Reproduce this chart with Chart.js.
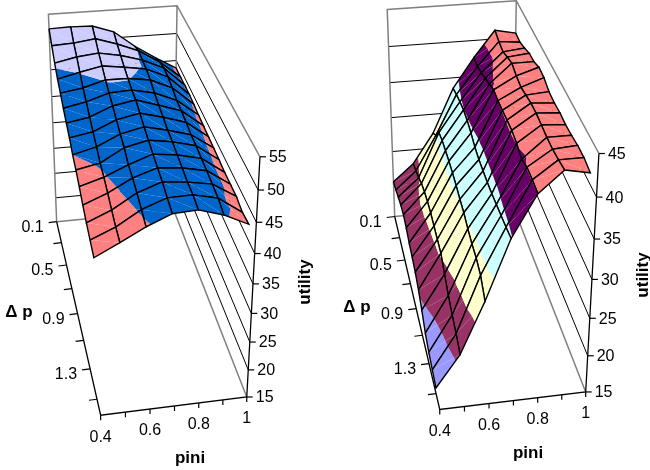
<!DOCTYPE html>
<html>
<head>
<meta charset="utf-8">
<script src="https://cdn.jsdelivr.net/npm/chart.js@4"></script>
<style>body{margin:0;background:#fff}canvas{display:block}</style>
</head>
<body>
<canvas id="surfaces" width="650" height="470"></canvas>
<script>
// axis values
const piniValues = [0.4, 0.5, 0.6, 0.7, 0.8, 0.9, 1];
const deltaPValues = [0.1, 0.2, 0.3, 0.4, 0.5, 0.6, 0.7, 0.8, 0.9, 1.0, 1.1, 1.2, 1.3, 1.4, 1.5];
const deltaPTicks = [0.1, 0.3, 0.5, 0.7, 0.9, 1.1, 1.3, 1.5];
const deltaPLabels = ['0.1', '', '0.5', '', '0.9', '', '1.3', ''];
const piniLabels = ['0.4', '', '0.6', '', '0.8', '', '1'];
const leftUtilityTicks = [15, 20, 25, 30, 35, 40, 45, 50, 55];
const rightUtilityTicks = [15, 20, 25, 30, 35, 40, 45];

// utility over delta p, one list per pini value (left surface)
const leftPini04 = [52.4, 50.9, 49.4, 48.2, 47.4, 46.5, 45.7, 45.0, 44.0, 43.4, 42.6, 41.6, 40.8, 40.2, 39.6];
const leftPini05 = [52.5, 51.1, 50.2, 49.1, 48.0, 47.3, 46.4, 45.7, 45.0, 44.2, 43.8, 43.2, 42.5, 41.9, 41.6];
const leftPini06 = [52.4, 51.6, 50.6, 49.9, 49.1, 48.5, 48.0, 47.4, 46.8, 46.4, 45.5, 45.3, 44.9, 44.3, 43.7];
const leftPini07 = [51.1, 50.4, 49.9, 49.4, 49.05, 48.7, 48.7, 48.2, 47.7, 47.3, 46.9, 46.6, 46.3, 45.8, 45.4];
const leftPini08 = [48.2, 48.9, 48.8, 48.8, 48.5, 47.9, 47.5, 47.2, 46.8, 46.7, 46.4, 46.2, 45.9, 45.9, 45.6];
const leftPini09 = [45.8, 46.6, 47.1, 47.1, 46.8, 46.3, 46.2, 46.0, 45.7, 45.7, 45.5, 45.4, 45.2, 45.0, 44.4];
const leftPini10 = [43.6, 43.6, 43.7, 43.7, 43.6, 43.4, 43.3, 43.2, 43.1, 43.0, 42.8, 42.8, 42.8, 42.3, 42.5];

// same for the right surface
const rightPini04 = [20.4, 20.7, 21.2, 21.6, 21.8, 21.5, 21.0, 20.7, 20.3, 19.6, 18.6, 17.3, 16.6, 16.2, 15.8];
const rightPini05 = [22.9, 23.3, 23.8, 24.5, 24.8, 25.0, 25.0, 24.8, 24.6, 24.4, 23.3, 22.2, 21.4, 20.8, 20.0];
const rightPini06 = [27.2, 28.3, 30.1, 30.4, 30.4, 30.4, 30.3, 30.1, 29.8, 29.6, 29.1, 28.8, 28.7, 28.2, 26.7];
const rightPini07 = [33.5, 33.9, 34.2, 34.4, 34.3, 34.0, 33.5, 33.3, 33.3, 33.3, 33.4, 33.6, 33.8, 34.0, 34.3];
const rightPini08 = [37.6, 37.6, 38.0, 38.5, 39.0, 39.5, 39.4, 39.5, 39.6, 39.7, 39.5, 39.0, 39.5, 39.5, 39.4];
const rightPini09 = [41.2, 40.8, 40.6, 41.1, 41.5, 41.1, 40.9, 41.2, 41.5, 41.6, 41.5, 41.4, 41.4, 41.6, 41.9];
const rightPini10 = [40.6, 40.5, 40.9, 41.4, 41.5, 42.0, 41.9, 41.4, 41.3, 41.4, 41.3, 41.4, 41.6, 41.6, 41.3];

// band edges and fills
const leftEdges = [44, 49];
const leftColors = ['#FF8080', '#0066CC', '#CCCCFF'];
const rightEdges = [19.2, 24.1, 29.5, 34.5, 39.4];
const rightColors = ['#9999FF', '#993366', '#FFFFCC', '#CCFFFF', '#660066', '#FF8080'];

const FONT = '16px "Liberation Sans", Arial, sans-serif';
const BOLD = 'bold 17px "Liberation Sans", Arial, sans-serif';

// the plot box runs pini 0.4..1, delta p 0.1..1.6
const panels = [
  {
    rows: [leftPini04, leftPini05, leftPini06, leftPini07, leftPini08, leftPini09, leftPini10],
    edges: leftEdges, colors: leftColors, zTicks: leftUtilityTicks,
    // box corners on screen: [u, v, w, px, py]
    box: [[0,0,0,57,222],[1,1,0,247.3,397.3],[0,1,0,100.7,415],[1,0,0,173,210],[0,0,1,48,14],[1,0,1,178,6],[1,1,1,259.3,156.7]],
    dp: [19, 312], pini: [190, 458], util: [305, 282]
  },
  {
    rows: [rightPini04, rightPini05, rightPini06, rightPini07, rightPini08, rightPini09, rightPini10],
    edges: rightEdges, colors: rightColors, zTicks: rightUtilityTicks,
    box: [[0,0,0,395,216.7],[1,1,0,586,392.3],[0,1,0,440,409.3],[1,0,0,512,205],[0,0,1,386.7,9.3],[1,0,1,517.3,1],[1,1,1,598.3,153.3]],
    dp: [357, 307], pini: [528, 453], util: [643, 275]
  }
];

// fit a perspective camera to the box corners (least squares)
function fitCamera(pts) {
  const A = [], b = [];
  for (const [X, Y, Z, x, y] of pts) {
    A.push([X, Y, Z, 1, 0, 0, 0, 0, -x * X, -x * Y, -x * Z]); b.push(x);
    A.push([0, 0, 0, 0, X, Y, Z, 1, -y * X, -y * Y, -y * Z]); b.push(y);
  }
  const n = 11, M = [];
  for (let i = 0; i < n; i++) {
    const r = [];
    for (let j = 0; j < n; j++) r.push(A.reduce((s, a) => s + a[i] * a[j], 0));
    r.push(A.reduce((s, a, k) => s + a[i] * b[k], 0));
    M.push(r);
  }
  for (let i = 0; i < n; i++) {
    let p = i;
    for (let k = i; k < n; k++) if (Math.abs(M[k][i]) > Math.abs(M[p][i])) p = k;
    [M[i], M[p]] = [M[p], M[i]];
    for (let k = 0; k < n; k++) {
      if (k === i) continue;
      const f = M[k][i] / M[i][i];
      for (let j = i; j <= n; j++) M[k][j] -= f * M[i][j];
    }
  }
  return M.map((r, i) => r[n] / r[i]);
}

const piniMin = piniValues[0], piniMax = piniValues[piniValues.length - 1];
const dpMin = 0.1, dpMax = 1.6;

panels.forEach(p => {
  const P = fitCamera(p.box);
  const zMin = p.zTicks[0], zMax = p.zTicks[p.zTicks.length - 1];
  p.zMin = zMin; p.zMax = zMax;
  // pini, delta p, utility -> screen
  p.project = (pini, dp, z) => {
    const u = (pini - piniMin) / (piniMax - piniMin);
    const v = (dp - dpMin) / (dpMax - dpMin);
    const w = (z - zMin) / (zMax - zMin);
    const d = P[8] * u + P[9] * v + P[10] * w + 1;
    return {
      x: (P[0] * u + P[1] * v + P[2] * w + P[3]) / d,
      y: (P[4] * u + P[5] * v + P[6] * w + P[7]) / d
    };
  };
});

// clip a polygon of [pini, dp, z] to z >= lo or z <= hi
function clipZ(poly, level, keepAbove) {
  const out = [];
  poly.forEach((a, i) => {
    const b = poly[(i + 1) % poly.length];
    const aIn = keepAbove ? a[2] >= level : a[2] <= level;
    const bIn = keepAbove ? b[2] >= level : b[2] <= level;
    if (aIn) out.push(a);
    if (aIn !== bIn) {
      const t = (level - a[2]) / (b[2] - a[2]);
      out.push([a[0] + t * (b[0] - a[0]), a[1] + t * (b[1] - a[1]), level]);
    }
  });
  return out;
}

const datasets = [];
function addLine(pts, color, width) {
  datasets.push({ data: pts, showLine: true, fill: false, borderColor: color, borderWidth: width, pointRadius: 0, tension: 0 });
}
function addFill(pts, color) {
  datasets.push({ data: pts, showLine: true, fill: 'shape', backgroundColor: color, borderWidth: 0, borderColor: 'transparent', pointRadius: 0, tension: 0 });
}

const GRAY = '#808080', INK = '#000000';

panels.forEach(p => {
  const at = p.project;
  const a = piniMin, b = piniMax, zl = p.zMin, zh = p.zMax;
  // walls and their grid lines
  p.zTicks.slice(1, -1).forEach(z => {
    addLine([at(a, dpMin, z), at(b, dpMin, z), at(b, dpMax, z)], INK, 1);
  });
  addLine([at(a, dpMin, zl), at(a, dpMin, zh), at(b, dpMin, zh), at(b, dpMax, zh)], GRAY, 1.5);
  addLine([at(a, dpMin, zl), at(b, dpMin, zl), at(b, dpMax, zl)], GRAY, 1.5);
  addLine([at(b, dpMin, zl), at(b, dpMin, zh)], GRAY, 1.5);
  // axes
  addLine([at(a, dpMin, zl), at(a, dpMax, zl), at(b, dpMax, zl), at(b, dpMax, zh)], INK, 1.3);

  // axis ticks
  deltaPTicks.forEach(d => {
    const s = at(a, d, zl);
    addLine([s, { x: s.x - 8, y: s.y + 1 }], INK, 1.2);
  });
  piniValues.forEach(v => {
    const s = at(v, dpMax, zl);
    addLine([s, { x: s.x, y: s.y + 5 }], INK, 1.2);
  });
  p.zTicks.forEach(z => {
    const s = at(b, dpMax, z);
    addLine([s, { x: s.x + 6, y: s.y }], INK, 1.2);
  });

  // surface, far cells first
  for (let i = piniValues.length - 2; i >= 0; i--) {
    for (let r = 0; r < deltaPValues.length - 1; r++) {
      const q = [
        [piniValues[i], deltaPValues[r], p.rows[i][r]],
        [piniValues[i + 1], deltaPValues[r], p.rows[i + 1][r]],
        [piniValues[i + 1], deltaPValues[r + 1], p.rows[i + 1][r + 1]],
        [piniValues[i], deltaPValues[r + 1], p.rows[i][r + 1]]
      ];
      [[q[0], q[1], q[2]], [q[0], q[2], q[3]]].forEach(tri => {
        p.colors.forEach((color, k) => {
          let poly = tri;
          if (k > 0) poly = clipZ(poly, p.edges[k - 1], true);
          if (k < p.edges.length && poly.length) poly = clipZ(poly, p.edges[k], false);
          if (poly.length > 2) addFill(poly.map(c => at(c[0], c[1], c[2])), color);
        });
      });
      addLine(q.concat([q[0]]).map(c => at(c[0], c[1], c[2])), INK, 1.4);
    }
  }
});

// tick labels and axis titles
const axisText = {
  id: 'axisText',
  afterDraw(chart) {
    const ctx = chart.ctx;
    ctx.save();
    ctx.fillStyle = '#000';
    panels.forEach(p => {
      ctx.font = FONT;
      ctx.textBaseline = 'middle';
      ctx.textAlign = 'right';
      deltaPTicks.forEach((d, i) => {
        const s = p.project(piniMin, d, p.zMin);
        if (deltaPLabels[i]) ctx.fillText(deltaPLabels[i], s.x - 13, s.y + 6);
      });
      ctx.textAlign = 'center';
      piniValues.forEach((v, i) => {
        const s = p.project(v, dpMax, p.zMin);
        if (piniLabels[i]) ctx.fillText(piniLabels[i], s.x, s.y + 22);
      });
      ctx.textAlign = 'left';
      p.zTicks.forEach(z => {
        const s = p.project(piniMax, dpMax, z);
        ctx.fillText(String(z), s.x + 9, s.y + 1);
      });
      ctx.font = BOLD;
      ctx.textAlign = 'center';
      ctx.fillText('\u0394 p', p.dp[0], p.dp[1]);
      ctx.fillText('pini', p.pini[0], p.pini[1]);
      ctx.save();
      ctx.translate(p.util[0], p.util[1]);
      ctx.rotate(-Math.PI / 2);
      ctx.fillText('utility', 0, 0);
      ctx.restore();
    });
    ctx.restore();
  }
};

// datasets paint last-to-first, so turn the list round
datasets.reverse();

new Chart(document.getElementById('surfaces'), {
  type: 'scatter',
  data: { datasets },
  plugins: [axisText],
  options: {
    responsive: false,
    animation: false,
    events: [],
    layout: { padding: 0 },
    plugins: { legend: { display: false }, tooltip: { enabled: false }, title: { display: false } },
    scales: {
      x: { type: 'linear', min: 0, max: 650, display: false },
      y: { type: 'linear', min: 0, max: 470, reverse: true, display: false }
    }
  }
});
</script>
</body>
</html>
